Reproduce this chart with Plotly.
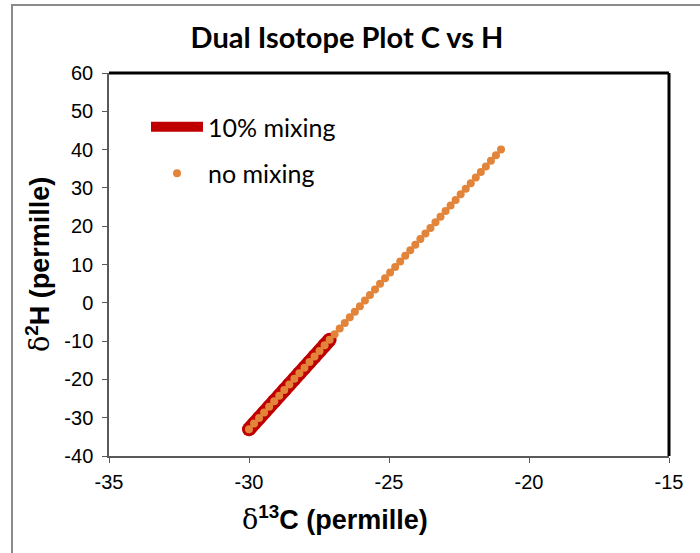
import plotly.graph_objects as go

# delta-13C / delta-2H pairs along the unmixed trend
no_mix_c = [-30.00, -29.82, -29.64, -29.46, -29.28, -29.10, -28.92, -28.74, -28.56, -28.38,
            -28.20, -28.02, -27.84, -27.66, -27.48, -27.30, -27.12, -26.94, -26.76, -26.58,
            -26.40, -26.22, -26.04, -25.86, -25.68, -25.50, -25.32, -25.14, -24.96, -24.78,
            -24.60, -24.42, -24.24, -24.06, -23.88, -23.70, -23.52, -23.34, -23.16, -22.98,
            -22.80, -22.62, -22.44, -22.26, -22.08, -21.90, -21.72, -21.54, -21.36, -21.18,
            -21.00]
no_mix_h = [-33.00, -31.54, -30.08, -28.62, -27.16, -25.70, -24.24, -22.78, -21.32, -19.86,
            -18.40, -16.94, -15.48, -14.02, -12.56, -11.10, -9.64, -8.18, -6.72, -5.26,
            -3.80, -2.34, -0.88, 0.58, 2.04, 3.50, 4.96, 6.42, 7.88, 9.34,
            10.80, 12.26, 13.72, 15.18, 16.64, 18.10, 19.56, 21.02, 22.48, 23.94,
            25.40, 26.86, 28.32, 29.78, 31.24, 32.70, 34.16, 35.62, 37.08, 38.54,
            40.00]

# 10% mixing trend
mix_c = [-30.00, -29.82, -29.64, -29.46, -29.28, -29.10, -28.92, -28.74, -28.56, -28.38,
         -28.20, -28.02, -27.84, -27.66, -27.48, -27.30, -27.12]
mix_h = [-33.00, -31.54, -30.08, -28.62, -27.16, -25.70, -24.24, -22.78, -21.32, -19.86,
         -18.40, -16.94, -15.48, -14.02, -12.56, -11.10, -9.64]

x_ticks = [-35, -30, -25, -20, -15]
x_labels = ["-35", "-30", "-25", "-20", "-15"]
y_ticks = [-40, -30, -20, -10, 0, 10, 20, 30, 40, 50, 60]
y_labels = ["-40", "-30", "-20", "-10", "0", "10", "20", "30", "40", "50", "60"]

RED = "#C00000"
ORANGE = "#E2843A"
TICK_FONT = dict(family="Liberation Sans, Arial", size=20, color="#000000")
AXIS_TITLE_FONT = dict(family="Liberation Sans, Arial", size=27, color="#000000")
SERIF_D = '<span style="font-family:DejaVu Serif;font-weight:normal">δ</span>'

fig = go.Figure()
# thick mixing band; round ends come from the markers drawn underneath the dots
fig.add_trace(go.Scatter(
    x=mix_c, y=mix_h, name="10% mixing", mode="lines",
    line=dict(color=RED, width=14), legendgroup="a",
))
fig.add_trace(go.Scatter(
    x=mix_c, y=mix_h, name="10% mixing", mode="markers",
    marker=dict(color=RED, size=14), legendgroup="a", showlegend=False,
))
fig.add_trace(go.Scatter(
    x=no_mix_c, y=no_mix_h, name="no mixing", mode="markers",
    marker=dict(color=ORANGE, size=8), legendgroup="b",
))

W, H = 700, 553
L, R, T, B = 109, 31, 73, 97
pw, ph = W - L - R, H - T - B

fig.update_layout(
    width=W, height=H,
    margin=dict(l=L, r=R, t=T, b=B),
    paper_bgcolor="white", plot_bgcolor="white",
    title=dict(text="<b>Dual Isotope Plot C vs H</b>", x=347 / W, xanchor="center",
               y=1 - 38 / H, yanchor="middle",
               font=dict(family="Lato", size=29, color="#000000")),
    xaxis=dict(range=[-35, -15], tickvals=x_ticks, ticktext=x_labels,
               showgrid=False, zeroline=False,
               showline=True, linecolor="#595959", linewidth=1.5,
               ticks="outside", ticklen=5, tickcolor="#595959",
               ticklabelstandoff=2, tickfont=TICK_FONT),
    yaxis=dict(range=[-40, 60], tickvals=y_ticks, ticktext=y_labels,
               showgrid=False, zeroline=False,
               showline=True, linecolor="#595959", linewidth=1.5,
               ticks="outside", ticklen=5, tickcolor="#595959",
               ticklabelstandoff=5, tickfont=TICK_FONT),
    legend=dict(x=(146 - L) / pw, y=1 - (104 - T) / ph, xanchor="left", yanchor="top",
                bgcolor="rgba(0,0,0,0)", tracegroupgap=11, traceorder="grouped",
                itemwidth=52,
                font=dict(family="Lato", size=25, color="#000000")),
    annotations=[
        dict(text=f"<b>{SERIF_D}<sup>13</sup>C (permille)</b>", xref="paper", yref="paper",
             x=(335 - L) / pw, y=-(518 - (T + ph)) / ph, xanchor="center", yanchor="middle",
             showarrow=False, font=AXIS_TITLE_FONT),
        dict(text=f"<b>{SERIF_D}<sup>2</sup>H (permille)</b>", xref="paper", yref="paper",
             x=(38 - L) / pw, y=1 - (265 - T) / ph, xanchor="center", yanchor="middle",
             textangle=-90, showarrow=False, font=AXIS_TITLE_FONT),
    ],
    shapes=[
        # top and right frame of the plot area
        dict(type="line", xref="paper", yref="paper", x0=0, x1=1, y0=1, y1=1,
             line=dict(color="#000000", width=3)),
        dict(type="line", xref="paper", yref="paper", x0=1, x1=1, y0=0, y1=1,
             line=dict(color="#000000", width=3)),
        # outer chart border
        dict(type="rect", xref="paper", yref="paper",
             x0=(12 - L) / pw, x1=(760 - L) / pw, y0=-0.4, y1=1 + (T - 5) / ph,
             line=dict(color="#8A8A8A", width=2), fillcolor="rgba(0,0,0,0)", layer="below"),
    ],
)

fig.write_html("out.html")
